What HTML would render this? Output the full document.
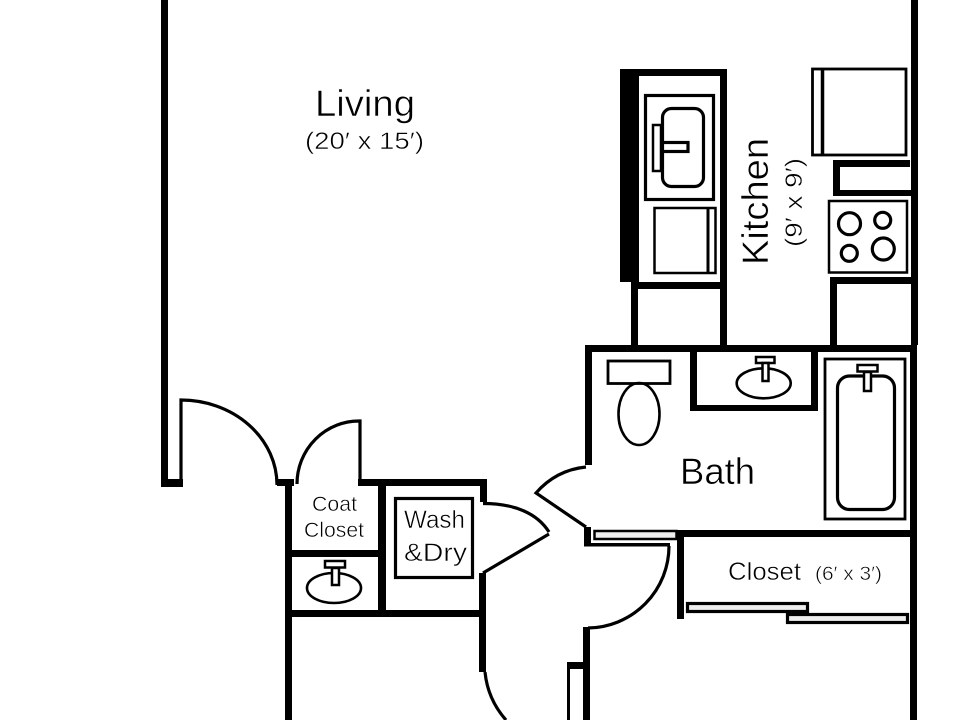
<!DOCTYPE html>
<html><head><meta charset="utf-8"><title>Floor plan</title>
<style>
html,body{margin:0;padding:0;background:#fff}
svg{display:block}
text{font-family:"Liberation Sans",sans-serif;fill:#000;stroke:#fff;stroke-width:.5}
</style></head>
<body>
<svg width="960" height="720" viewBox="0 0 960 720" xmlns="http://www.w3.org/2000/svg">
<rect width="960" height="720" fill="#fff"/>
<!-- walls -->
<g fill="#000">
<rect x="161" y="0" width="7" height="487"/>
<rect x="161" y="479" width="22" height="8"/>
<rect x="911" y="0" width="7" height="345"/>
<rect x="910" y="345" width="7" height="375"/>
<rect x="620" y="69" width="19" height="213"/>
<rect x="620" y="69" width="107" height="7"/>
<rect x="720" y="69" width="7" height="276"/>
<rect x="631" y="282" width="96" height="7"/>
<rect x="631" y="282" width="7" height="63"/>
<rect x="833" y="160" width="77" height="7"/>
<rect x="833" y="190" width="78" height="6"/>
<rect x="833" y="160" width="7" height="36"/>
<rect x="830" y="277" width="81" height="7"/>
<rect x="830" y="277" width="7" height="68"/>
<rect x="585" y="345" width="332" height="7"/>
<rect x="585" y="345" width="7" height="120"/>
<rect x="690" y="352" width="7" height="59"/>
<rect x="811" y="352" width="7" height="59"/>
<rect x="690" y="405" width="128" height="6"/>
<rect x="677" y="530" width="240" height="7"/>
<rect x="677" y="530" width="7" height="89"/>
<rect x="584" y="527" width="7" height="19"/>
<rect x="584" y="543" width="86" height="3.5"/>
<rect x="583" y="627" width="7" height="93"/>
<rect x="567" y="662" width="16" height="7"/>
<rect x="567" y="662" width="3" height="58"/>
<rect x="277" y="479" width="17" height="7"/>
<rect x="285" y="479" width="7" height="241"/>
<rect x="358" y="479" width="129" height="7"/>
<rect x="480" y="479" width="7" height="23"/>
<rect x="378" y="486" width="8" height="124"/>
<rect x="292" y="550" width="86" height="7"/>
<rect x="292" y="610" width="187" height="7"/>
<rect x="479" y="573" width="7" height="99"/>
</g>
<!-- thin lines and fixtures -->
<g fill="none" stroke="#000" stroke-width="3.200">
<path d="M181 485V400A96 85 0 0 1 277 485"/>
<path d="M297 484A62 63 0 0 1 360 421V480"/>
<path d="M483 503.500C514 503.500 537 513 549 532M549 534L483 573"/>
<path d="M586 467Q556 470 536 493L586 527"/>
<path d="M669 546A82 82 0 0 1 588 628"/>
<path d="M485 672A85 85 0 0 0 506 720"/>
<rect x="645.500" y="95.500" width="68" height="104"/>
<rect x="662.500" y="108.500" width="41" height="78" rx="9"/>
<rect x="653" y="125" width="8" height="46" stroke-width="2.500"/>
<rect x="662" y="142.500" width="26" height="9"/>
<rect x="654.500" y="208" width="61" height="65" stroke-width="2.500"/>
<path d="M708 208V273" stroke-width="3"/>
<rect x="812.500" y="69" width="93.500" height="86" stroke-width="2.800"/>
<path d="M822.500 69V155" stroke-width="3.500"/>
<rect x="829" y="201" width="78" height="71.500" stroke-width="2.500"/>
<circle cx="849.500" cy="223.700" r="11"/>
<circle cx="882.700" cy="220.300" r="8"/>
<circle cx="849.300" cy="253.300" r="8"/>
<circle cx="883.300" cy="249" r="11"/>
<ellipse cx="763.700" cy="383.300" rx="27" ry="15" stroke-width="2.600"/>
<rect x="756" y="357" width="18.500" height="6" stroke-width="2.500"/>
<rect x="762.500" y="363" width="6" height="18" stroke-width="2.500" fill="#fff"/>
<rect x="608" y="361" width="62" height="22.500" stroke-width="2.800"/>
<ellipse cx="639" cy="414" rx="20.500" ry="31" stroke-width="2.600"/>
<rect x="825" y="359" width="80" height="160" stroke-width="2.800"/>
<rect x="837.500" y="376" width="57" height="133.500" rx="12"/>
<rect x="857.500" y="365" width="20" height="6.500" stroke-width="2.500"/>
<rect x="864" y="372" width="7" height="19" stroke-width="2.500" fill="#fff"/>
<rect x="395.500" y="498.500" width="77" height="79"/>
<ellipse cx="334" cy="588" rx="27" ry="15" stroke-width="2.600"/>
<rect x="325" y="561" width="20" height="6.500" stroke-width="2.500"/>
<rect x="332" y="568" width="7" height="17" stroke-width="2.500" fill="#fff"/>
<rect x="594.500" y="531" width="82" height="8" fill="#eee" stroke-width="2.500"/>
<rect x="687.500" y="603.500" width="120" height="8" fill="#eee"/>
<rect x="787.500" y="614.500" width="120" height="8" fill="#eee"/>
</g>
<!-- labels -->
<text x="315" y="116" font-size="37" textLength="100" lengthAdjust="spacingAndGlyphs">Living</text>
<text x="305" y="149" font-size="24" textLength="119" lengthAdjust="spacingAndGlyphs">(20′ x 15′)</text>
<text transform="translate(768 265) rotate(-90)" font-size="37" textLength="127" lengthAdjust="spacingAndGlyphs">Kitchen</text>
<text transform="translate(802 247) rotate(-90)" font-size="24" textLength="89" lengthAdjust="spacingAndGlyphs">(9′ x 9′)</text>
<text x="680" y="484" font-size="37" textLength="75" lengthAdjust="spacingAndGlyphs">Bath</text>
<text x="312" y="511" font-size="21" textLength="45" lengthAdjust="spacingAndGlyphs">Coat</text>
<text x="304" y="537" font-size="21" textLength="60" lengthAdjust="spacingAndGlyphs">Closet</text>
<text x="404" y="528" font-size="25" textLength="61" lengthAdjust="spacingAndGlyphs">Wash</text>
<text x="404" y="561" font-size="25" textLength="63" lengthAdjust="spacingAndGlyphs">&amp;Dry</text>
<text x="728" y="580" font-size="25" textLength="73" lengthAdjust="spacingAndGlyphs">Closet</text>
<text x="815" y="580" font-size="19" textLength="67" lengthAdjust="spacingAndGlyphs">(6′ x 3′)</text>
</svg>
</body></html>
